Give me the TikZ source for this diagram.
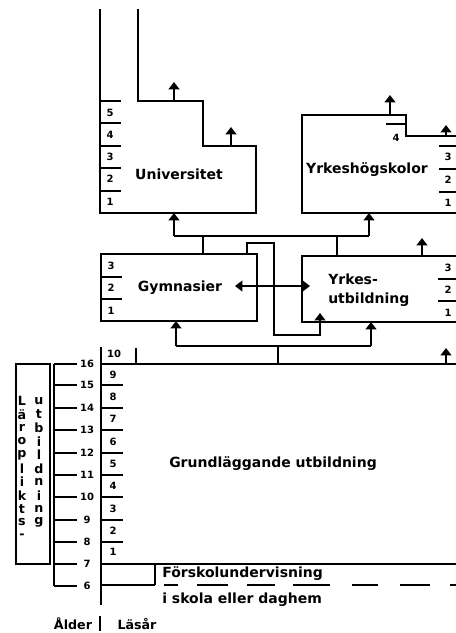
\documentclass[tikz,border=0pt]{standalone}
\usepackage{fontspec}
\setmainfont{DejaVu Sans}
\usetikzlibrary{arrows.meta}
\begin{document}
\begin{tikzpicture}[x=0.75pt,y=-0.75pt,
  ln/.style={line width=1.45pt},
  arr/.style={line width=1.45pt,-{Triangle[length=5.5pt,width=8pt]}},
  darr/.style={line width=1.45pt,{Triangle[length=5.5pt,width=8pt]}-{Triangle[length=5.5pt,width=8pt]}},
  big/.style={font=\fontsize{10.5}{14.3}\selectfont\bfseries, inner sep=0pt},
  lab/.style={font=\fontsize{9.5}{11}\selectfont\bfseries, inner sep=0pt},
  num/.style={font=\fontsize{7.5}{8}\selectfont\bfseries, inner sep=0pt},
  let/.style={font=\fontsize{9.5}{10}\selectfont\bfseries, inner sep=0pt}]
\useasboundingbox (0,0) rectangle (456,633);

% ---------- Universitet ----------
\draw[ln] (138,9) -- (138,101) -- (203,101) -- (203,146) -- (256,146) -- (256,213) -- (100,213) -- (100,9);
\foreach \y in {101,123,146,168,191} \draw[ln] (100,\y) -- (121,\y);
\foreach \n/\y in {5/113,4/135,3/157,2/179,1/202} \node[num] (u\n) at (110,\y) {\n};
\node[big] (univ) at (179,174) {Universitet};
\coordinate (ua1) at (174,101); \coordinate (ua1t) at (174,82);
\coordinate (ua2) at (231,146); \coordinate (ua2t) at (231,127);
\draw[arr] (ua1) -- (ua1t);
\draw[arr] (ua2) -- (ua2t);

% ---------- Yrkeshögskolor ----------
\draw[ln] (458,136) -- (406,136) -- (406,115) -- (302,115) -- (302,213) -- (458,213);
\draw[ln] (386,124) -- (406,124);
\node[num] (y4) at (396,138) {4};
\foreach \y in {146,169,192} \draw[ln] (439,\y) -- (458,\y);
\foreach \n/\y in {3/157,2/180,1/203} \node[num] (yh\n) at (448,\y) {\n};
\node[big] (yhs) at (367,170) {Yrkeshögskolor};
\coordinate (ya1) at (390,115); \coordinate (ya1t) at (390,95);
\coordinate (ya2) at (446,136); \coordinate (ya2t) at (446,125);
\draw[arr] (ya1) -- (ya1t);
\draw[arr] (ya2) -- (ya2t);

% ---------- connectors to upper level ----------
\coordinate (h1) at (174,236); \coordinate (h2) at (369,236);
\coordinate (ub) at (174,213); \coordinate (yb) at (369,213);
\draw[ln] (h1) -- (h2);
\draw[arr] (h1) -- (ub);
\draw[arr] (h2) -- (yb);
\draw[ln] (203,254) -- (203,236);
\draw[ln] (337,256) -- (337,236);

% ---------- Gymnasier ----------
\draw[ln] (101,254) rectangle (257,321);
\draw[ln] (101,277) -- (122,277);
\draw[ln] (101,299) -- (122,299);
\foreach \n/\y in {3/266,2/288,1/311} \node[num] (g\n) at (111,\y) {\n};
\node[big] (gym) at (180,288) {Gymnasier};

% ---------- Yrkesutbildning ----------
\draw[ln] (458,256) -- (302,256) -- (302,322) -- (458,322);
\draw[ln] (438,279) -- (458,279);
\draw[ln] (438,301) -- (458,301);
\foreach \n/\y in {3/268,2/290,1/313} \node[num] (yu\n) at (448,\y) {\n};
\node[big, anchor=west, align=left] (yrk) at (328,290) {Yrkes-\\utbildning};
\coordinate (yt) at (422,256); \coordinate (ytt) at (422,238);
\draw[arr] (yt) -- (ytt);

% double arrow
\coordinate (dl) at (235,286); \coordinate (dr) at (310,286);
\draw[darr] (dl) -- (dr);

% loop from Gymnasier to Yrkesutbildning
\coordinate (lp) at (320,313);
\draw[arr] (247,254) -- (247,243) -- (274,243) -- (274,335) -- (320,335) -- (lp);

% ---------- connectors from basic level ----------
\coordinate (b1) at (176,346); \coordinate (b2) at (371,346);
\draw[ln] (b1) -- (b2);
\draw[arr] (b1) -- (176,321);
\draw[arr] (b2) -- (371,322);
\draw[ln] (278,346) -- (278,364);

% ---------- Grundläggande utbildning ----------
\draw[ln] (101,347) -- (101,605);
\draw[ln] (101,364) -- (458,364);
\draw[ln] (136,348) -- (136,364);
\node[num] (g10) at (114,354) {10};
\coordinate (ga) at (446,364); \coordinate (gat) at (446,348);
\draw[arr] (ga) -- (gat);
\draw[ln] (101,564) -- (458,564);
\foreach \y in {385,408,430,453,475,497,520,542} \draw[ln] (101,\y) -- (123,\y);
\foreach \n/\y in {9/375,8/397,7/419,6/442,5/464,4/486,3/509,2/531,1/552} \node[num] (k\n) at (113,\y) {\n};
\node[big] (grund) at (273,464) {Grundläggande utbildning};

% ---------- Förskola ----------
\draw[ln] (155,564) -- (155,585);
\draw[ln] (101,585) -- (155,585);
\foreach \a/\b in {164/178,197/228,247/275,293/330,352/378,400/430,450/458} \draw[ln] (\a,585) -- (\b,585);
\node[big, anchor=west] (forsk) at (162,574) {Förskolundervisning};
\node[big, anchor=west] (skola) at (162,600) {i skola eller daghem};

% ---------- ages ----------
\draw[ln] (54,364) -- (54,586);
\foreach \a/\y in {16/364,15/385,14/408,13/430,12/453,11/475,10/497,9/520,8/542,7/564,6/586} {
  \draw[ln] (54,\y) -- (77,\y);
  \node[num] (age\a) at (87,\y) {\a};
}

% ---------- Läropliktsutbildning ----------
\draw[ln] (16,364) rectangle (50,564);
\foreach \c [count=\i from 0] in {L,ä,r,o,p,l,i,k,t,s,-} \node[let] (la\i) at (22,401+13.5*\i) {\c};
\foreach \c [count=\i from 0] in {u,t,b,i,l,d,n,i,n,g} \node[let] (lb\i) at (39,401+13.5*\i) {\c};

% ---------- bottom labels ----------
\node[lab] (alder) at (73,624) {Ålder};
\draw[ln] (100,616) -- (100,631);
\node[lab] (lasar) at (137,624) {Läsår};
\end{tikzpicture}
\end{document}
